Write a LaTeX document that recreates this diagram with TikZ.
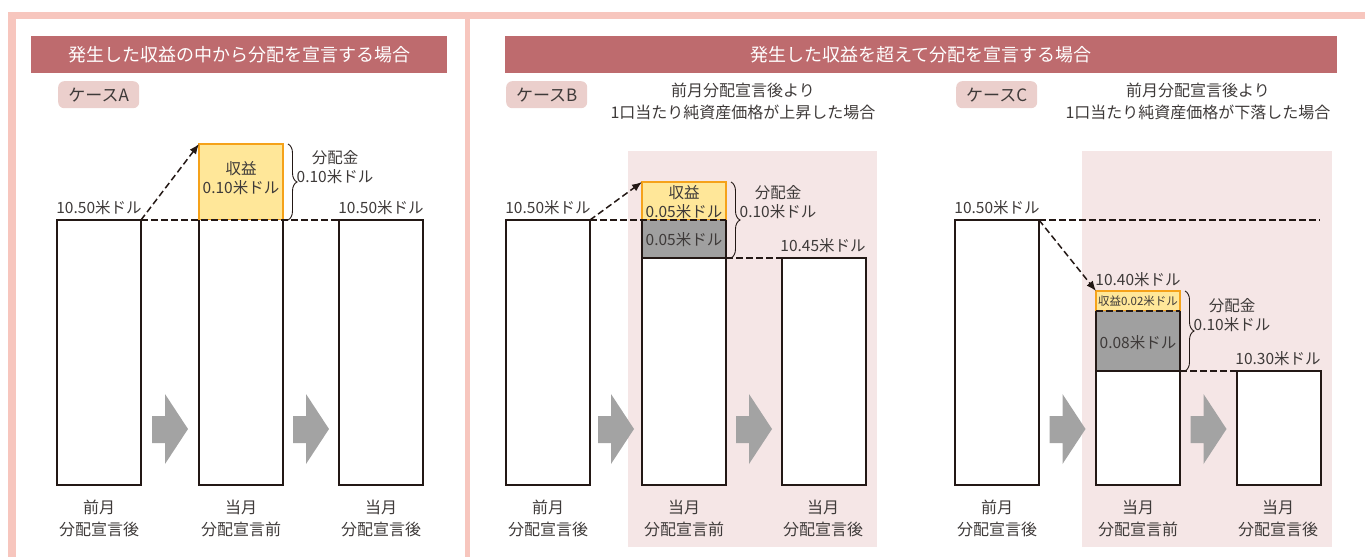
\documentclass[tikz,border=0pt]{standalone}
\usepackage{fontspec}
\setmainfont{Noto Sans CJK JP}
\usetikzlibrary{arrows.meta,decorations.pathreplacing}
\definecolor{framepink}{HTML}{F7C6BE}
\definecolor{headfill}{HTML}{BE6B6E}
\definecolor{tagfill}{HTML}{EBCFCC}
\definecolor{bgpink}{HTML}{F5E6E6}
\definecolor{yfill}{HTML}{FFE799}
\definecolor{ydraw}{HTML}{F5A21A}
\definecolor{gfill}{HTML}{A0A0A0}
\definecolor{arrowgray}{HTML}{A3A3A3}
\definecolor{barline}{HTML}{231815}
\definecolor{txt}{HTML}{3E3A39}
\newcommand{\myGrayArrow}[1]{%
  \fill[arrowgray] (#1,416) -- ++(13,0) -- ++(0,-22) -- (#1+36,429) -- (#1+13,464) -- ++(0,-21) -- (#1,443) -- cycle;}
\begin{document}
\begin{tikzpicture}[x=1pt,y=-1pt,
  barbox/.style={draw=barline,line width=1.5pt,fill=white,inner sep=0pt,outer sep=0pt,minimum width=84pt,anchor=north west},
  openbar/.style={fill=white,inner sep=0pt,outer sep=0pt,minimum width=84pt,anchor=north west},
  ybox/.style={draw=ydraw,line width=1.5pt,fill=yfill,inner sep=0pt,outer sep=0pt,minimum width=84pt,anchor=north west},
  gbox/.style={fill=gfill,inner sep=0pt,outer sep=0pt,minimum width=84pt,anchor=north west},
  barside/.style={draw=barline,line width=1.5pt},
  dashline/.style={draw=barline,line width=1.5pt,dash pattern=on 6.5pt off 3.5pt},
  dasharrow/.style={dashline,-{Latex[length=10pt,width=8pt]}},
  brc/.style={draw=barline,line width=0.9pt,decorate,decoration={brace,amplitude=9pt}},
  lbl/.style={text=txt,inner sep=0pt,align=center,font=\fontsize{15.5}{19}\selectfont},
  capt/.style={text=txt,inner sep=0pt,align=center,font=\fontsize{16}{22}\selectfont},
  tagbox/.style={fill=tagfill,rounded corners=6pt,minimum width=81pt,minimum height=27pt,inner sep=0pt,anchor=north west,text=txt,font=\fontsize{17}{20}\selectfont},
  hdr/.style={fill=headfill,text=white,inner sep=0pt,minimum height=37pt,anchor=north west,font=\fontsize{18}{20}\selectfont},
  bgbox/.style={fill=bgpink,inner sep=0pt,anchor=north west,minimum height=396pt},
]
\useasboundingbox (0,0) rectangle (1365,557);
% frame
\fill[framepink] (8,12) rectangle (1365,19);
\fill[framepink] (8,12) rectangle (16,557);
\fill[framepink] (465,19) rectangle (469.5,557);
% headers
\node[hdr,minimum width=416pt] (hA) at (31,36) {発生した収益の中から分配を宣言する場合};
\node[hdr,minimum width=832pt] (hBC) at (505,36) {発生した収益を超えて分配を宣言する場合};
\node[tagbox] (tA) at (58,81) {ケースA};
\node[tagbox] (tB) at (506,81) {ケースB};
\node[tagbox] (tC) at (956,81) {ケースC};
\node[capt] (sB) at (743,101) {前月分配宣言後より\\1口当たり純資産価格が上昇した場合};
\node[capt] (sC) at (1198,101) {前月分配宣言後より\\1口当たり純資産価格が下落した場合};
% backgrounds
\node[bgbox,minimum width=249pt] (bgB) at (628,151) {};
\node[bgbox,minimum width=250pt] (bgC) at (1082,151) {};
% ---------------- Case A
\node[barbox,minimum height=265pt] (A1) at (57,220) {};
\node[ybox,minimum height=76pt] (A2y) at (199,144) {};
\node[openbar,minimum height=265pt] (A2) at (199,220) {};
\draw[barside] (A2.north west) -- (A2.south west) -- (A2.south east) -- (A2.north east);
\node[barbox,minimum height=265pt] (A3) at (339,220) {};
\node[lbl] (A2yt) at (241,178) {収益\\0.10米ドル};
\node[lbl] (A1v) at (99,208) {10.50米ドル};
\node[lbl] (A3v) at (381,208) {10.50米ドル};
\node[lbl] (Ad) at (335,167) {分配金\\0.10米ドル};
\draw[dashline] (A1.north east) -- (A3.north west);
\draw[dasharrow] (A1.north east) -- (A2y.north west);
\draw[brc] ([xshift=5pt]A2y.north east) -- ([xshift=5pt]A2y.south east);
\myGrayArrow{152}
\myGrayArrow{293}
\node[capt] (A1c) at (99,518) {前月\\分配宣言後};
\node[capt] (A2c) at (241,518) {当月\\分配宣言前};
\node[capt] (A3c) at (381,518) {当月\\分配宣言後};
% ---------------- Case B
\node[barbox,minimum height=265pt] (B1) at (506,220) {};
\node[ybox,minimum height=38pt] (B2y) at (642,182) {};
\node[gbox,minimum height=38pt] (B2g) at (642,220) {};
\draw[barside] (B2g.north west) -- (B2g.south west) (B2g.north east) -- (B2g.south east);
\node[barbox,minimum height=227pt] (B2) at (642,258) {};
\node[barbox,minimum height=227pt] (B3) at (782,258) {};
\node[lbl] (B2yt) at (684,202.5) {収益\\0.05米ドル};
\node[lbl] (B2gt) at (684,240) {0.05米ドル};
\node[lbl] (B1v) at (548,208) {10.50米ドル};
\node[lbl] (B3v) at (823,246) {10.45米ドル};
\node[lbl] (Bd) at (778,202.5) {分配金\\0.10米ドル};
\draw[dashline] (B1.north east) -- (B2g.north east);
\draw[dashline] (B2.north east) -- (B3.north west);
\draw[dasharrow] (B1.north east) -- (B2y.north west);
\draw[brc] ([xshift=5pt]B2y.north east) -- ([xshift=5pt]B2g.south east);
\myGrayArrow{598}
\myGrayArrow{736}
\node[capt] (B1c) at (548,518) {前月\\分配宣言後};
\node[capt] (B2c) at (684,518) {当月\\分配宣言前};
\node[capt] (B3c) at (823,518) {当月\\分配宣言後};
% ---------------- Case C
\node[barbox,minimum height=265pt] (C1) at (955,220) {};
\node[ybox,minimum height=20pt] (C2y) at (1096,291) {};
\node[gbox,minimum height=60pt] (C2g) at (1096,311) {};
\draw[barside] (C2g.north west) -- (C2g.south west) (C2g.north east) -- (C2g.south east);
\node[barbox,minimum height=114pt] (C2) at (1096,371) {};
\node[barbox,minimum height=114pt] (C3) at (1237,371) {};
\coordinate (Cend) at (1320,220);
\node[lbl,font=\fontsize{11.5}{14}\selectfont] (C2yt) at (1138,301) {収益0.02米ドル};
\node[lbl] (C2gt) at (1138,343) {0.08米ドル};
\node[lbl] (C1v) at (997,208) {10.50米ドル};
\node[lbl] (C2v) at (1138,280) {10.40米ドル};
\node[lbl] (C3v) at (1278,359) {10.30米ドル};
\node[lbl] (Cd) at (1232,315.5) {分配金\\0.10米ドル};
\draw[dashline] (C1.north east) -- (Cend);
\draw[dashline] (C2g.north west) -- (C2g.north east);
\draw[dashline] (C2.north east) -- (C3.north west);
\draw[dasharrow] (C1.north east) -- (C2y.north west);
\draw[brc] ([xshift=5pt]C2y.north east) -- ([xshift=5pt]C2g.south east);
\myGrayArrow{1049.5}
\myGrayArrow{1190.5}
\node[capt] (C1c) at (997,518) {前月\\分配宣言後};
\node[capt] (C2c) at (1138,518) {当月\\分配宣言前};
\node[capt] (C3c) at (1278,518) {当月\\分配宣言後};
\end{tikzpicture}
\end{document}
